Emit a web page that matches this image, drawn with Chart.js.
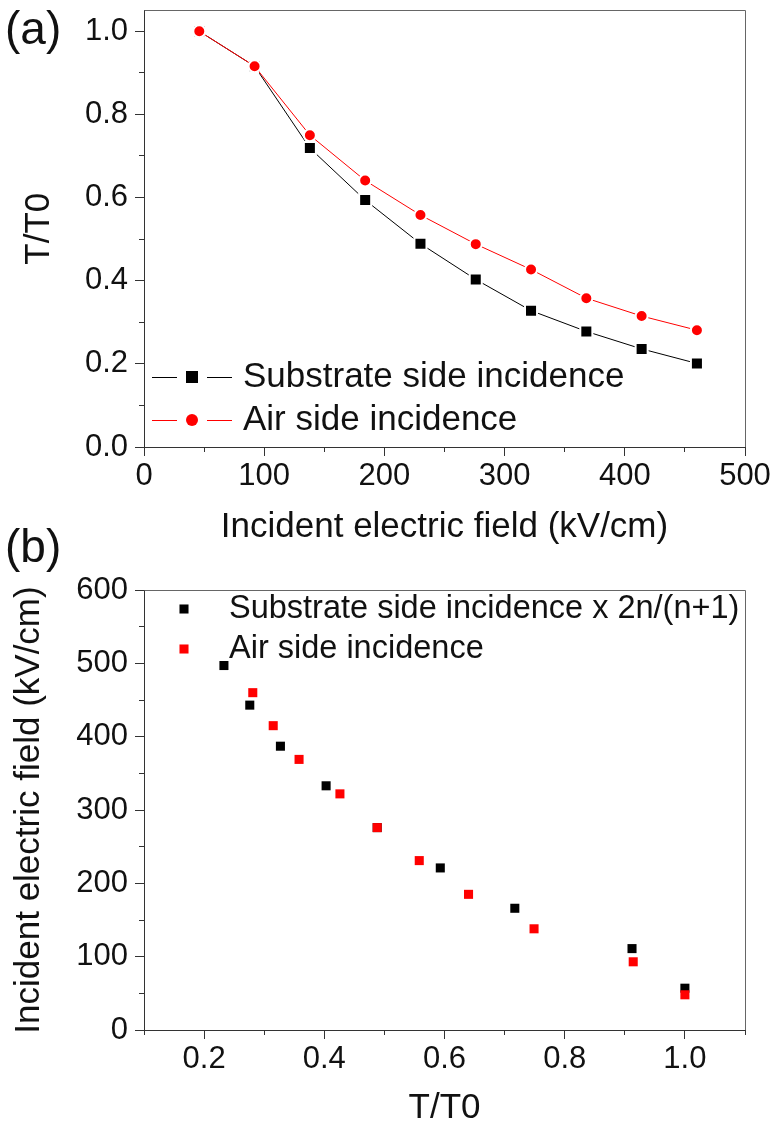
<!DOCTYPE html>
<html>
<head>
<meta charset="utf-8">
<script src="https://cdn.jsdelivr.net/npm/chart.js@4.4.1/dist/chart.umd.min.js"></script>
<style>
    html, body { margin: 0; padding: 0; background: #fff; }
    #wrap { position: relative; width: 774px; height: 1126px; overflow: hidden; background: #fff; }
    canvas { position: absolute; left: 0; }
    #chartA { top: 0; }
    #chartB { top: 520px; }
</style>
</head>
<body>
<div id="wrap">
    <canvas id="chartA" width="774" height="545"></canvas>
    <canvas id="chartB" width="774" height="606"></canvas>
</div>
<script>
// (a) transmission vs incident field
const fieldA = [46, 92, 138, 184, 230, 276, 322, 368, 414, 460];
const substrateT = [1.0, 0.916, 0.719, 0.594, 0.489, 0.403, 0.328, 0.278, 0.236, 0.201];
const airT = [1.0, 0.916, 0.75, 0.641, 0.558, 0.488, 0.427, 0.358, 0.315, 0.281];

// (b) incident field vs transmission
const substrateBT = [1.0, 0.912, 0.717, 0.593, 0.488, 0.403, 0.327, 0.276, 0.233];
const substrateBField = [57, 111, 166, 221, 276, 333, 387, 443, 497];
const airBT = [1.0, 0.914, 0.749, 0.640, 0.558, 0.488, 0.426, 0.358, 0.315, 0.281];
const airBField = [48, 93, 138, 185, 231, 276, 322, 369, 415, 460];

const ticksAX = [0, 100, 200, 300, 400, 500];
const ticksAY = [0.0, 0.2, 0.4, 0.6, 0.8, 1.0];
const ticksBX = [0.2, 0.4, 0.6, 0.8, 1.0];
const ticksBY = [0, 100, 200, 300, 400, 500, 600];

const labelsA = ['Substrate side incidence', 'Air side incidence'];
const labelsB = ['Substrate side incidence x 2n/(n+1)', 'Air side incidence'];

Chart.defaults.font.family = '"Liberation Sans", Arial, sans-serif';
Chart.defaults.color = '#111';

const pts = (xs, ys) => xs.map((x, i) => ({x: x, y: ys[i]}));
const align = v => Math.round(v - 0.5) + 0.5;

function axis(o) {
    return {
        type: 'linear',
        position: o.position,
        min: o.min,
        max: o.max,
        afterBuildTicks: s => { s.ticks = o.ticks.map(v => ({value: v})); },
        afterFit: s => {
            if (o.position === 'left') s.width = o.size; else s.height = o.size;
            s.paddingTop = s.paddingBottom = s.paddingLeft = s.paddingRight = 0;
        },
        border: {color: '#333', width: 1},
        grid: {drawOnChartArea: false, tickLength: 9, tickColor: '#333', tickWidth: 1},
        ticks: {
            color: '#111', font: {size: 31}, padding: o.tickPad,
            autoSkip: false, maxRotation: 0, callback: o.fmt
        },
        title: {
            display: true, text: o.title, color: '#111',
            font: {size: 35, lineHeight: 1}, padding: o.titlePad
        }
    };
}

function drawMarker(ctx, ds, x, y) {
    const r = ds.pointRadius;
    ctx.beginPath();
    if (ds.pointStyle === 'rect') {
        const h = r * Math.SQRT1_2;
        ctx.rect(x - h, y - h, 2 * h, 2 * h);
    } else {
        ctx.arc(x, y, r, 0, Math.PI * 2);
    }
    ctx.fillStyle = ds.backgroundColor;
    ctx.fill();
}

// box frame (top/right) and minor ticks
const frame = {
    id: 'frame',
    afterDraw(chart, args, o) {
        const {ctx, chartArea: a, scales} = chart;
        ctx.save();
        ctx.lineWidth = 1;
        ctx.strokeStyle = o.color;
        ctx.beginPath();
        ctx.moveTo(align(a.left), align(a.top));
        ctx.lineTo(align(a.right), align(a.top));
        ctx.lineTo(align(a.right), align(a.bottom));
        ctx.stroke();

        ctx.strokeStyle = '#333';
        ctx.beginPath();
        const xs = scales.x, ys = scales.y;
        const nx = Math.round((xs.max - xs.min) / o.minorX);
        for (let i = 0; i <= nx; i++) {
            const px = align(xs.getPixelForValue(xs.min + i * o.minorX));
            ctx.moveTo(px, a.bottom);
            ctx.lineTo(px, a.bottom + 5);
        }
        const ny = Math.floor((ys.max - ys.min) / o.minorY + 1e-9);
        for (let i = 0; i <= ny; i++) {
            const py = align(ys.getPixelForValue(ys.min + i * o.minorY));
            ctx.moveTo(a.left - 5, py);
            ctx.lineTo(a.left, py);
        }
        ctx.stroke();
        ctx.restore();
    }
};

// legend inside the plot, plus panel tag
const insideLegend = {
    id: 'insideLegend',
    afterDraw(chart, args, o) {
        const ctx = chart.ctx;
        ctx.save();
        chart.data.datasets.forEach((ds, i) => {
            const y = o.rows[i];
            if (o.line) {
                ctx.strokeStyle = ds.borderColor;
                ctx.lineWidth = 1;
                ctx.beginPath();
                ctx.moveTo(o.line[0], align(y)); ctx.lineTo(o.line[1], align(y));
                ctx.moveTo(o.line[2], align(y)); ctx.lineTo(o.line[3], align(y));
                ctx.stroke();
            }
            drawMarker(ctx, ds, o.markerX, y);
            ctx.fillStyle = '#111';
            ctx.font = o.font + 'px "Liberation Sans", Arial, sans-serif';
            ctx.textBaseline = 'middle';
            ctx.textAlign = 'left';
            ctx.fillText(ds.label, o.textX, y);
        });
        ctx.font = '46px "Liberation Sans", Arial, sans-serif';
        ctx.textBaseline = 'alphabetic';
        ctx.fillStyle = '#111';
        ctx.fillText(o.tag, 5, o.tagY);
        ctx.restore();
    }
};

new Chart(document.getElementById('chartA'), {
    type: 'scatter',
    data: {
        datasets: [{
            label: labelsA[0],
            data: pts(fieldA, substrateT),
            showLine: true,
            borderColor: '#000',
            backgroundColor: '#000',
            borderWidth: 1,
            pointStyle: 'rect',
            pointRadius: 8.5,
            pointBorderColor: '#fff',
            pointBorderWidth: 2,
            order: 1
        }, {
            label: labelsA[1],
            data: pts(fieldA, airT),
            showLine: true,
            borderColor: '#ff0000',
            backgroundColor: '#ff0000',
            borderWidth: 1,
            pointStyle: 'circle',
            pointRadius: 6,
            pointBorderColor: '#fff',
            pointBorderWidth: 2,
            order: 0
        }]
    },
    options: {
        responsive: false,
        animation: false,
        events: [],
        layout: {padding: {left: 0, top: 7, right: 29, bottom: 0}},
        scales: {
            x: axis({position: 'bottom', min: 0, max: 500, ticks: ticksAX, size: 98, tickPad: 2,
                fmt: v => String(v), title: 'Incident electric field (kV/cm)', titlePad: {top: 0, bottom: 0}}),
            y: axis({position: 'left', min: 0, max: 1.05, ticks: ticksAY, size: 144, tickPad: 7,
                fmt: v => v.toFixed(1), title: 'T/T0', titlePad: {top: 22, bottom: 0}})
        },
        plugins: {
            legend: {display: false},
            tooltip: {enabled: false},
            frame: {color: '#666', minorX: 50, minorY: 0.1},
            insideLegend: {rows: [377, 420], line: [152, 177, 207, 232], markerX: 192, textX: 243, font: 35, tag: '(a)', tagY: 44}
        }
    },
    plugins: [frame, insideLegend]
});

new Chart(document.getElementById('chartB'), {
    type: 'scatter',
    data: {
        datasets: [{
            label: labelsB[0],
            data: pts(substrateBT, substrateBField),
            backgroundColor: '#000',
            borderColor: '#000',
            pointStyle: 'rect',
            pointRadius: 6.4,
            pointBorderWidth: 0,
            order: 1
        }, {
            label: labelsB[1],
            data: pts(airBT, airBField),
            backgroundColor: '#ff0000',
            borderColor: '#ff0000',
            pointStyle: 'rect',
            pointRadius: 6.4,
            pointBorderWidth: 0,
            order: 0
        }]
    },
    options: {
        responsive: false,
        animation: false,
        events: [],
        layout: {padding: {left: 0, top: 70, right: 29, bottom: 0}},
        scales: {
            x: axis({position: 'bottom', min: 0.1, max: 1.1, ticks: ticksBX, size: 96, tickPad: 2,
                fmt: v => v.toFixed(1), title: 'T/T0', titlePad: {top: 0, bottom: 0}}),
            y: axis({position: 'left', min: 0, max: 600, ticks: ticksBY, size: 144, tickPad: 7,
                fmt: v => String(v), title: 'Incident electric field (kV/cm)', titlePad: {top: 12, bottom: 0}})
        },
        plugins: {
            legend: {display: false},
            tooltip: {enabled: false},
            frame: {color: '#666', minorX: 0.1, minorY: 50},
            insideLegend: {rows: [89, 129], markerX: 184, textX: 229, font: 32.5, tag: '(b)', tagY: 42}
        }
    },
    plugins: [frame, insideLegend]
});
</script>
</body>
</html>
